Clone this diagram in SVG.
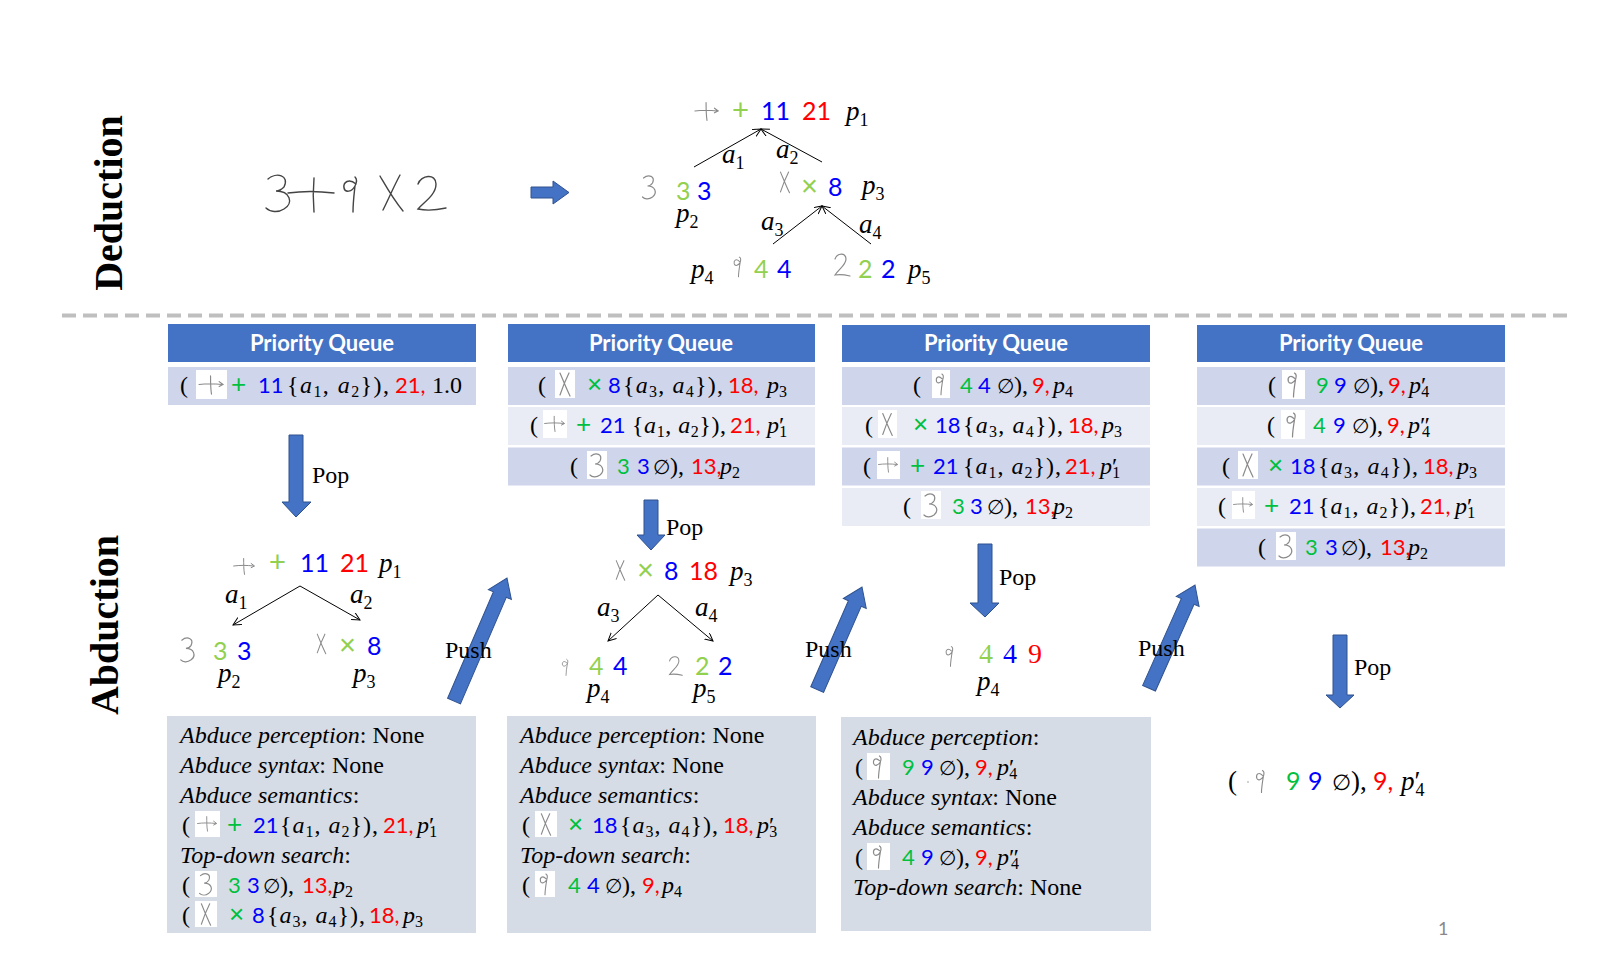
<svg xmlns="http://www.w3.org/2000/svg" xmlns:xlink="http://www.w3.org/1999/xlink" width="1617" height="961" viewBox="0 0 1617 961">
<style>
.hdr{fill:#4472C4}
.ht{font-family:Lato,"Liberation Sans",sans-serif;font-weight:bold;font-size:22px;fill:#fff;text-anchor:middle}
.rd{fill:#CFD5EA}
.rl{fill:#E9EBF5}
.ib{fill:#D6DCE5}
.m{font-family:"Liberation Serif","DejaVu Serif",serif;font-size:24px;fill:#000}
.it{font-style:italic}
.n{font-family:Lato,"Liberation Sans",sans-serif;font-size:22px}
.tn{font-size:25px}
.o{font-family:"Liberation Sans",Arial,sans-serif;font-size:26px}
.to{font-size:29px}
.t{font-size:27px}
.e{font-size:20px}
.g{fill:#00C040}
.tg{fill:#92D050}
.b{fill:#0000FF}
.r{fill:#FF0000}
.s{font-size:16px;font-style:normal}
.s2{font-size:18px;font-style:normal}
.hwb{fill:#fff}
.hw{fill:none;stroke:#8a8a8a;stroke-width:1.2;stroke-linecap:round}
.hwd{fill:none;stroke:#444;stroke-width:1.4;stroke-linecap:round}
.ba{fill:#4472C4;stroke:#2F528F;stroke-width:1}
.edge{stroke:#000;stroke-width:1;fill:none;marker-end:url(#ah)}
.lbl{font-family:"Liberation Serif",serif;font-size:24px;fill:#000}
.sec{font-family:"Liberation Serif",serif;font-weight:bold;font-size:40px;fill:#000;text-anchor:middle}
</style>
<defs>
<marker id="ah" markerWidth="10" markerHeight="10" refX="8" refY="4" orient="auto" markerUnits="userSpaceOnUse">
<path d="M0,0 L8,4 L0,8" fill="none" stroke="#000" stroke-width="1"/>
</marker>
<symbol id="hwP" viewBox="0 0 30 24"><path class="hw" d="M2,12 C9,11 18,11 26,12 M23,9 L27,12 L23,14 M14,3 C14,10 14,16 15,22"/></symbol>
<symbol id="hw3" viewBox="0 0 20 28"><path class="hw" d="M4,5 C9,1 16,3 13,10 C11,13 9,13 8,13 C16,13 18,20 13,24 C9,27 5,26 3,24"/></symbol>
<symbol id="hwX" viewBox="0 0 20 28"><path class="hw" d="M5,3 C8,10 11,18 15,26 M14,3 C11,9 8,16 5,25"/></symbol>
<symbol id="hw9" viewBox="0 0 20 28"><path class="hw" d="M11,8 C7,4 4,7 5,11 C6,14 10,13 12,9 C13,6 13,4 11,3 M12,9 C11,15 10,21 10,26"/></symbol>
<symbol id="hw2" viewBox="0 0 20 28"><path class="hw" d="M3,8 C5,2 14,1 14,8 C14,14 7,18 3,24 C8,23 14,24 18,25"/></symbol>
</defs>
<rect width="1617" height="961" fill="#fff"/>

<g id="section-labels">
<text class="sec" transform="translate(122,203) rotate(-90)">Deduction</text>
<text class="sec" transform="translate(118,625) rotate(-90)">Abduction</text>
</g>
<g id="separator"><line x1="62" y1="315.5" x2="1568" y2="315.5" stroke="#BFBFBF" stroke-width="4" stroke-dasharray="14,7"/></g>

<g id="ded-input">
<path class="hwd" d="M268,179 C276,172 290,175 284,187 C281,190 277,191 276,191 C290,191 294,203 284,209 C278,213 270,212 266,208"/>
<path class="hwd" d="M288,193 C302,191 318,191 334,193 M314,178 C313,189 313,200 314,212"/>
<path class="hwd" d="M356,184 C349,178 343,182 344,188 C345,193 352,192 355,186 C357,182 357,179 355,177 M355,186 C354,195 353,203 353,212"/>
<path class="hwd" d="M380,176 C387,188 393,199 403,211 M400,175 C394,186 389,198 383,210"/>
<path class="hwd" d="M418,184 C421,175 436,173 436,184 C436,195 424,202 418,209 C427,211 437,210 446,208"/>
</g>
<g id="ded-arrow"><polygon class="ba" points="531,187 553,187 553,181 569,192.5 553,204 553,198 531,198"/></g>

<g id="ded-tree">
<g id="ded-n1">
<use href="#hwP" x="693" y="99" width="28" height="24"/>
<text class="o tg to" x="732" y="120">+</text>
<text class="n b tn" x="761" y="120">11</text>
<text class="n r tn" x="802" y="120">21</text>
<text class="m it t" x="846" y="120">p<tspan class="s2" dy="6">1</tspan></text>
</g>
<g id="ded-n2">
<use href="#hw3" x="639" y="173" width="21" height="28"/>
<text class="n tg tn" x="676" y="200">3</text>
<text class="n b tn" x="697" y="200">3</text>
<text class="m it t" x="676" y="222">p<tspan class="s2" dy="6">2</tspan></text>
</g>
<g id="ded-n3">
<use href="#hwX" x="776" y="169" width="18" height="26"/>
<text class="o tg to" x="801" y="196">×</text>
<text class="n b tn" x="828" y="196">8</text>
<text class="m it t" x="862" y="194">p<tspan class="s2" dy="6">3</tspan></text>
</g>
<g id="ded-n4">
<text class="m it t" x="691" y="278">p<tspan class="s2" dy="6">4</tspan></text>
<use href="#hw9" x="730" y="253" width="17" height="27"/>
<text class="n tg tn" x="754" y="278">4</text>
<text class="n b tn" x="777" y="278">4</text>
</g>
<g id="ded-n5">
<use href="#hw2" x="832" y="251" width="20" height="28"/>
<text class="n tg tn" x="858" y="278">2</text>
<text class="n b tn" x="881" y="278">2</text>
<text class="m it t" x="908" y="278">p<tspan class="s2" dy="6">5</tspan></text>
</g>
<g id="ded-labels">
<text class="m it t" x="722" y="163">a<tspan class="s2" dy="6">1</tspan></text>
<text class="m it t" x="776" y="158">a<tspan class="s2" dy="6">2</tspan></text>
<text class="m it t" x="761" y="230">a<tspan class="s2" dy="6">3</tspan></text>
<text class="m it t" x="859" y="233">a<tspan class="s2" dy="6">4</tspan></text>
</g>
</g>

<!-- Column 1 queue -->
<g id="pq1">
<rect class="hdr" x="168" y="324" width="308" height="38"/>
<text class="ht" x="322" y="351">Priority Queue</text>
<rect class="rd" x="168" y="367" width="308" height="38"/>
<text class="m" x="180" y="393">(</text>
<rect class="hwb" x="196" y="370" width="31" height="29"/><use href="#hwP" x="197" y="373" width="29" height="23"/>
<text class="o g" x="231" y="393">+</text>
<text class="n b" x="258" y="393">11</text>
<text class="m" x="287" y="393" textLength="102">{<tspan class="it">a</tspan><tspan class="s" dy="4">1</tspan><tspan dy="-4">, </tspan><tspan class="it">a</tspan><tspan class="s" dy="4">2</tspan><tspan dy="-4">}),</tspan></text>
<text class="n r" x="395" y="393">21,</text>
<text class="m" x="432" y="393">1.0</text>
</g>

<!-- Column 2 queue -->
<g id="pq2">
<rect class="hdr" x="508" y="324" width="307" height="38"/>
<text class="ht" x="661" y="351">Priority Queue</text>
<rect class="rd" x="508" y="367" width="307" height="38"/>
<rect class="rl" x="508" y="407" width="307" height="38"/>
<rect class="rd" x="508" y="447.5" width="307" height="38"/>
<text class="m" x="538" y="393">(</text>
<rect class="hwb" x="555" y="370" width="20" height="28"/><use href="#hwX" x="555" y="370" width="20" height="28"/>
<text class="o g" x="587" y="393">×</text>
<text class="n b" x="608" y="393">8</text>
<text class="m" x="623" y="393" textLength="100">{<tspan class="it">a</tspan><tspan class="s" dy="4">3</tspan><tspan dy="-4">, </tspan><tspan class="it">a</tspan><tspan class="s" dy="4">4</tspan><tspan dy="-4">}),</tspan></text>
<text class="n r" x="728" y="393">18,</text>
<text class="m it" x="767" y="393">p<tspan class="s" dy="4">3</tspan></text>

<text class="m" x="530" y="433">(</text>
<rect class="hwb" x="543" y="410" width="24" height="28"/><use href="#hwP" x="543" y="413" width="24" height="21"/>
<text class="o g" x="576" y="433">+</text>
<text class="n b" x="600" y="433">21</text>
<text class="m" x="632" y="433" textLength="94">{<tspan class="it">a</tspan><tspan class="s" dy="4">1</tspan><tspan dy="-4">, </tspan><tspan class="it">a</tspan><tspan class="s" dy="4">2</tspan><tspan dy="-4">}),</tspan></text>
<text class="n r" x="730" y="433">21,</text>
<text class="m" x="767" y="433"><tspan class="it">p</tspan>′<tspan class="s" dx="-5" dy="4">1</tspan></text>

<text class="m" x="570" y="474">(</text>
<rect class="hwb" x="587" y="451" width="20" height="28"/><use href="#hw3" x="587" y="451" width="20" height="28"/>
<text class="n g" x="617" y="474">3</text>
<text class="n b" x="637" y="474">3</text>
<text class="m" x="653" y="474"><tspan class="e">∅</tspan>),</text>
<text class="n r" x="691" y="474">13,</text>
<text class="m it" x="720" y="474">p<tspan class="s" dy="4">2</tspan></text>
</g>

<!-- Column 3 queue -->
<g id="pq3">
<rect class="hdr" x="842" y="325" width="308" height="37"/>
<text class="ht" x="996" y="351">Priority Queue</text>
<rect class="rd" x="842" y="367" width="308" height="38"/>
<rect class="rl" x="842" y="407" width="308" height="38"/>
<rect class="rd" x="842" y="447.5" width="308" height="38"/>
<rect class="rl" x="842" y="488" width="308" height="38"/>
<text class="m" x="913" y="393">(</text>
<rect class="hwb" x="932" y="370" width="18" height="28"/><use href="#hw9" x="932" y="370" width="18" height="28"/>
<text class="n g" x="960" y="393">4</text>
<text class="n b" x="978" y="393">4</text>
<text class="m" x="997" y="393"><tspan class="e">∅</tspan>),</text>
<text class="n r" x="1032" y="393">9,</text>
<text class="m it" x="1053" y="393">p<tspan class="s" dy="4">4</tspan></text>

<text class="m" x="865" y="433">(</text>
<rect class="hwb" x="878" y="410" width="19" height="28"/><use href="#hwX" x="878" y="410" width="19" height="28"/>
<text class="o g" x="913" y="433">×</text>
<text class="n b" x="935" y="433">18</text>
<text class="m" x="963" y="433" textLength="100">{<tspan class="it">a</tspan><tspan class="s" dy="4">3</tspan><tspan dy="-4">, </tspan><tspan class="it">a</tspan><tspan class="s" dy="4">4</tspan><tspan dy="-4">}),</tspan></text>
<text class="n r" x="1068" y="433">18,</text>
<text class="m it" x="1102" y="433">p<tspan class="s" dy="4">3</tspan></text>

<text class="m" x="863" y="474">(</text>
<rect class="hwb" x="877" y="451" width="23" height="28"/><use href="#hwP" x="877" y="454" width="23" height="21"/>
<text class="o g" x="910" y="474">+</text>
<text class="n b" x="933" y="474">21</text>
<text class="m" x="963" y="474" textLength="98">{<tspan class="it">a</tspan><tspan class="s" dy="4">1</tspan><tspan dy="-4">, </tspan><tspan class="it">a</tspan><tspan class="s" dy="4">2</tspan><tspan dy="-4">}),</tspan></text>
<text class="n r" x="1065" y="474">21,</text>
<text class="m" x="1100" y="474"><tspan class="it">p</tspan>′<tspan class="s" dx="-5" dy="4">1</tspan></text>

<text class="m" x="903" y="514">(</text>
<rect class="hwb" x="921" y="491" width="20" height="28"/><use href="#hw3" x="921" y="491" width="20" height="28"/>
<text class="n g" x="952" y="514">3</text>
<text class="n b" x="970" y="514">3</text>
<text class="m" x="987" y="514"><tspan class="e">∅</tspan>),</text>
<text class="n r" x="1025" y="514">13,</text>
<text class="m it" x="1053" y="514">p<tspan class="s" dy="4">2</tspan></text>
</g>

<!-- Column 4 queue -->
<g id="pq4">
<rect class="hdr" x="1197" y="325" width="308" height="37"/>
<text class="ht" x="1351" y="351">Priority Queue</text>
<rect class="rd" x="1197" y="367" width="308" height="38"/>
<rect class="rl" x="1197" y="407" width="308" height="38"/>
<rect class="rd" x="1197" y="447.5" width="308" height="38"/>
<rect class="rl" x="1197" y="488" width="308" height="38"/>
<rect class="rd" x="1197" y="528.5" width="308" height="38"/>
<text class="m" x="1268" y="393">(</text>
<rect class="hwb" x="1282" y="370" width="23" height="29"/><use href="#hw9" x="1283" y="370" width="21" height="29"/>
<text class="n g" x="1316" y="393">9</text>
<text class="n b" x="1334" y="393">9</text>
<text class="m" x="1353" y="393"><tspan class="e">∅</tspan>),</text>
<text class="n r" x="1388" y="393">9,</text>
<text class="m" x="1409" y="393"><tspan class="it">p</tspan>′<tspan class="s" dx="-5" dy="4">4</tspan></text>

<text class="m" x="1267" y="433">(</text>
<rect class="hwb" x="1281" y="410" width="24" height="29"/><use href="#hw9" x="1282" y="410" width="21" height="29"/>
<text class="n g" x="1313" y="433">4</text>
<text class="n b" x="1333" y="433">9</text>
<text class="m" x="1352" y="433"><tspan class="e">∅</tspan>),</text>
<text class="n r" x="1387" y="433">9,</text>
<text class="m" x="1408" y="433"><tspan class="it">p</tspan>″<tspan class="s" dx="-8" dy="4">4</tspan></text>

<text class="m" x="1222" y="474">(</text>
<rect class="hwb" x="1238" y="451" width="20" height="28"/><use href="#hwX" x="1238" y="451" width="20" height="28"/>
<text class="o g" x="1268" y="474">×</text>
<text class="n b" x="1290" y="474">18</text>
<text class="m" x="1318" y="474" textLength="100">{<tspan class="it">a</tspan><tspan class="s" dy="4">3</tspan><tspan dy="-4">, </tspan><tspan class="it">a</tspan><tspan class="s" dy="4">4</tspan><tspan dy="-4">}),</tspan></text>
<text class="n r" x="1423" y="474">18,</text>
<text class="m it" x="1457" y="474">p<tspan class="s" dy="4">3</tspan></text>

<text class="m" x="1218" y="514">(</text>
<rect class="hwb" x="1232" y="491" width="23" height="28"/><use href="#hwP" x="1232" y="494" width="23" height="21"/>
<text class="o g" x="1264" y="514">+</text>
<text class="n b" x="1289" y="514">21</text>
<text class="m" x="1318" y="514" textLength="98">{<tspan class="it">a</tspan><tspan class="s" dy="4">1</tspan><tspan dy="-4">, </tspan><tspan class="it">a</tspan><tspan class="s" dy="4">2</tspan><tspan dy="-4">}),</tspan></text>
<text class="n r" x="1420" y="514">21,</text>
<text class="m" x="1455" y="514"><tspan class="it">p</tspan>′<tspan class="s" dx="-5" dy="4">1</tspan></text>

<text class="m" x="1258" y="555">(</text>
<rect class="hwb" x="1276" y="532" width="20" height="28"/><use href="#hw3" x="1276" y="532" width="20" height="28"/>
<text class="n g" x="1305" y="555">3</text>
<text class="n b" x="1325" y="555">3</text>
<text class="m" x="1341" y="555"><tspan class="e">∅</tspan>),</text>
<text class="n r" x="1380" y="555">13,</text>
<text class="m it" x="1408" y="555">p<tspan class="s" dy="4">2</tspan></text>
</g>

<!-- Abduction trees -->
<g id="tree1">
<use href="#hwP" x="230" y="556" width="29" height="20"/>
<text class="o tg to" x="269" y="572">+</text>
<text class="n b tn" x="300" y="572">11</text>
<text class="n r tn" x="340" y="572">21</text>
<text class="m it t" x="379" y="572">p<tspan class="s2" dy="6">1</tspan></text>
<text class="m it t" x="225" y="603">a<tspan class="s2" dy="6">1</tspan></text>
<text class="m it t" x="350" y="603">a<tspan class="s2" dy="6">2</tspan></text>
<use href="#hw3" x="177" y="635" width="22" height="29"/>
<text class="n tg tn" x="213" y="660">3</text>
<text class="n b tn" x="237" y="660">3</text>
<text class="m it t" x="218" y="682">p<tspan class="s2" dy="6">2</tspan></text>
<use href="#hwX" x="313" y="631" width="17" height="25"/>
<text class="o tg to" x="339" y="655">×</text>
<text class="n b tn" x="367" y="655">8</text>
<text class="m it t" x="353" y="682">p<tspan class="s2" dy="6">3</tspan></text>
</g>

<g id="tree2">
<use href="#hwX" x="612" y="556" width="17" height="28"/>
<text class="o tg to" x="637" y="580">×</text>
<text class="n b tn" x="664" y="580">8</text>
<text class="n r tn" x="689" y="580">18</text>
<text class="m it t" x="730" y="580">p<tspan class="s2" dy="6">3</tspan></text>
<text class="m it t" x="597" y="616">a<tspan class="s2" dy="6">3</tspan></text>
<text class="m it t" x="695" y="616">a<tspan class="s2" dy="6">4</tspan></text>
<use href="#hw9" x="559" y="655" width="14" height="24"/>
<text class="n tg tn" x="589" y="675">4</text>
<text class="n b tn" x="613" y="675">4</text>
<use href="#hw2" x="667" y="653" width="17" height="26"/>
<text class="n tg tn" x="695" y="675">2</text>
<text class="n b tn" x="718" y="675">2</text>
<text class="m it t" x="587" y="697">p<tspan class="s2" dy="6">4</tspan></text>
<text class="m it t" x="693" y="697">p<tspan class="s2" dy="6">5</tspan></text>
</g>

<g id="tree3">
<use href="#hw9" x="942" y="643" width="17" height="26"/>
<text class="m tg" x="979" y="663" style="font-size:28px">4</text>
<text class="m b" x="1003" y="663" style="font-size:28px">4</text>
<text class="m r" x="1028" y="663" style="font-size:28px">9</text>
<text class="m it t" x="977" y="690">p<tspan class="s2" dy="6">4</tspan></text>
</g>

<g id="result4">
<text class="m t" x="1228" y="790">(</text>
<circle cx="1248" cy="782" r="0.8" fill="#999"/>
<use href="#hw9" x="1252" y="766" width="19" height="30"/>
<text class="n g tn" x="1286" y="790">9</text>
<text class="n b tn" x="1308" y="790">9</text>
<text class="m t" x="1332" y="790"><tspan style="font-size:22px">∅</tspan>),</text>
<text class="n r tn" x="1373" y="790">9,</text>
<text class="m t" x="1401" y="790"><tspan class="it">p</tspan>′<tspan class="s2" dx="-5" dy="6">4</tspan></text>
</g>

<!-- Info boxes -->
<g id="info1">
<rect class="ib" x="167" y="716" width="309" height="217"/>
<text class="m" x="180" y="743"><tspan class="it">Abduce perception</tspan>: None</text>
<text class="m" x="180" y="773"><tspan class="it">Abduce syntax</tspan>: None</text>
<text class="m" x="180" y="803"><tspan class="it">Abduce semantics</tspan>:</text>
<text class="m" x="182" y="833">(</text>
<rect class="hwb" x="195" y="811" width="25" height="26"/><use href="#hwP" x="196" y="813" width="23" height="21"/>
<text class="o g" x="227" y="833">+</text>
<text class="n b" x="253" y="833">21</text>
<text class="m" x="280" y="833" textLength="98">{<tspan class="it">a</tspan><tspan class="s" dy="4">1</tspan><tspan dy="-4">, </tspan><tspan class="it">a</tspan><tspan class="s" dy="4">2</tspan><tspan dy="-4">}),</tspan></text>
<text class="n r" x="383" y="833">21,</text>
<text class="m" x="417" y="833"><tspan class="it">p</tspan>′<tspan class="s" dx="-5" dy="4">1</tspan></text>
<text class="m" x="180" y="863"><tspan class="it">Top-down search</tspan>:</text>
<text class="m" x="182" y="893">(</text>
<rect class="hwb" x="195" y="871" width="22" height="26"/><use href="#hw3" x="196" y="871" width="20" height="26"/>
<text class="n g" x="228" y="893">3</text>
<text class="n b" x="247" y="893">3</text>
<text class="m" x="263" y="893"><tspan class="e">∅</tspan>),</text>
<text class="n r" x="302" y="893">13,</text>
<text class="m it" x="333" y="893">p<tspan class="s" dy="4">2</tspan></text>
<text class="m" x="182" y="923">(</text>
<rect class="hwb" x="195" y="901" width="22" height="26"/><use href="#hwX" x="196" y="901" width="20" height="26"/>
<text class="o g" x="229" y="923">×</text>
<text class="n b" x="252" y="923">8</text>
<text class="m" x="267" y="923" textLength="98">{<tspan class="it">a</tspan><tspan class="s" dy="4">3</tspan><tspan dy="-4">, </tspan><tspan class="it">a</tspan><tspan class="s" dy="4">4</tspan><tspan dy="-4">}),</tspan></text>
<text class="n r" x="369" y="923">18,</text>
<text class="m it" x="403" y="923">p<tspan class="s" dy="4">3</tspan></text>
</g>

<g id="info2">
<rect class="ib" x="507" y="716" width="309" height="217"/>
<text class="m" x="520" y="743"><tspan class="it">Abduce perception</tspan>: None</text>
<text class="m" x="520" y="773"><tspan class="it">Abduce syntax</tspan>: None</text>
<text class="m" x="520" y="803"><tspan class="it">Abduce semantics</tspan>:</text>
<text class="m" x="522" y="833">(</text>
<rect class="hwb" x="535" y="811" width="22" height="26"/><use href="#hwX" x="536" y="811" width="20" height="26"/>
<text class="o g" x="568" y="833">×</text>
<text class="n b" x="592" y="833">18</text>
<text class="m" x="620" y="833" textLength="98">{<tspan class="it">a</tspan><tspan class="s" dy="4">3</tspan><tspan dy="-4">, </tspan><tspan class="it">a</tspan><tspan class="s" dy="4">4</tspan><tspan dy="-4">}),</tspan></text>
<text class="n r" x="723" y="833">18,</text>
<text class="m" x="757" y="833"><tspan class="it">p</tspan>′<tspan class="s" dx="-5" dy="4">3</tspan></text>
<text class="m" x="520" y="863"><tspan class="it">Top-down search</tspan>:</text>
<text class="m" x="522" y="893">(</text>
<rect class="hwb" x="535" y="871" width="20" height="26"/><use href="#hw9" x="536" y="871" width="18" height="26"/>
<text class="n g" x="568" y="893">4</text>
<text class="n b" x="587" y="893">4</text>
<text class="m" x="605" y="893"><tspan class="e">∅</tspan>),</text>
<text class="n r" x="642" y="893">9,</text>
<text class="m it" x="662" y="893">p<tspan class="s" dy="4">4</tspan></text>
</g>

<g id="info3">
<rect class="ib" x="841" y="717" width="310" height="214"/>
<text class="m" x="853" y="745"><tspan class="it">Abduce perception</tspan>:</text>
<text class="m" x="855" y="775">(</text>
<rect class="hwb" x="867" y="753" width="23" height="27"/><use href="#hw9" x="868" y="753" width="21" height="27"/>
<text class="n g" x="902" y="775">9</text>
<text class="n b" x="921" y="775">9</text>
<text class="m" x="939" y="775"><tspan class="e">∅</tspan>),</text>
<text class="n r" x="975" y="775">9,</text>
<text class="m" x="997" y="775"><tspan class="it">p</tspan>′<tspan class="s" dx="-5" dy="4">4</tspan></text>
<text class="m" x="853" y="805"><tspan class="it">Abduce syntax</tspan>: None</text>
<text class="m" x="853" y="835"><tspan class="it">Abduce semantics</tspan>:</text>
<text class="m" x="855" y="865">(</text>
<rect class="hwb" x="867" y="843" width="23" height="27"/><use href="#hw9" x="868" y="843" width="21" height="27"/>
<text class="n g" x="902" y="865">4</text>
<text class="n b" x="921" y="865">9</text>
<text class="m" x="939" y="865"><tspan class="e">∅</tspan>),</text>
<text class="n r" x="975" y="865">9,</text>
<text class="m" x="997" y="865"><tspan class="it">p</tspan>″<tspan class="s" dx="-8" dy="4">4</tspan></text>
<text class="m" x="853" y="895"><tspan class="it">Top-down search</tspan>: None</text>
</g>

<!-- Connectors -->
<g id="connectors">
<line class="edge" x1="694" y1="167" x2="761" y2="129"/>
<line class="edge" x1="822" y1="162" x2="761" y2="129"/>
<line class="edge" x1="773" y1="244" x2="822" y2="206"/>
<line class="edge" x1="871" y1="244" x2="822" y2="206"/>
<line class="edge" x1="300" y1="586" x2="233" y2="625"/>
<line class="edge" x1="300" y1="586" x2="360" y2="620"/>
<line class="edge" x1="658" y1="595" x2="608" y2="641"/>
<line class="edge" x1="658" y1="595" x2="713" y2="641"/>
<polygon class="ba" points="289,435 303,435 303,502 311,502 296,517 282,502 289,502"/>
<polygon class="ba" points="644,500 658,500 658,535 665,535 651,550 637,535 644,535"/>
<polygon class="ba" points="978,544 992,544 992,603 999,603 985,617 970,603 978,603"/>
<polygon class="ba" points="1333,635 1347,635 1347,695 1354,695 1340,708 1326,695 1333,695"/>
<polygon class="ba" transform="translate(507,578) rotate(23.3)" points="0,0 12.5,18 7,18 7,134 -7,134 -7,18 -12.5,18"/>
<polygon class="ba" transform="translate(862,587) rotate(23.6)" points="0,0 12.5,18 7,18 7,112 -7,112 -7,18 -12.5,18"/>
<polygon class="ba" transform="translate(1195,585) rotate(24)" points="0,0 12.5,18 7,18 7,113 -7,113 -7,18 -12.5,18"/>
</g>
<g id="arrow-labels">
<text class="lbl" x="312" y="483">Pop</text>
<text class="lbl" x="666" y="535">Pop</text>
<text class="lbl" x="999" y="585">Pop</text>
<text class="lbl" x="1354" y="675">Pop</text>
<text class="lbl" x="445" y="658">Push</text>
<text class="lbl" x="805" y="657">Push</text>
<text class="lbl" x="1138" y="656">Push</text>
</g>
<g id="page-number"><text x="1438" y="935" style="font-family:Lato,sans-serif;font-size:18px;fill:#898989">1</text></g>
</svg>
